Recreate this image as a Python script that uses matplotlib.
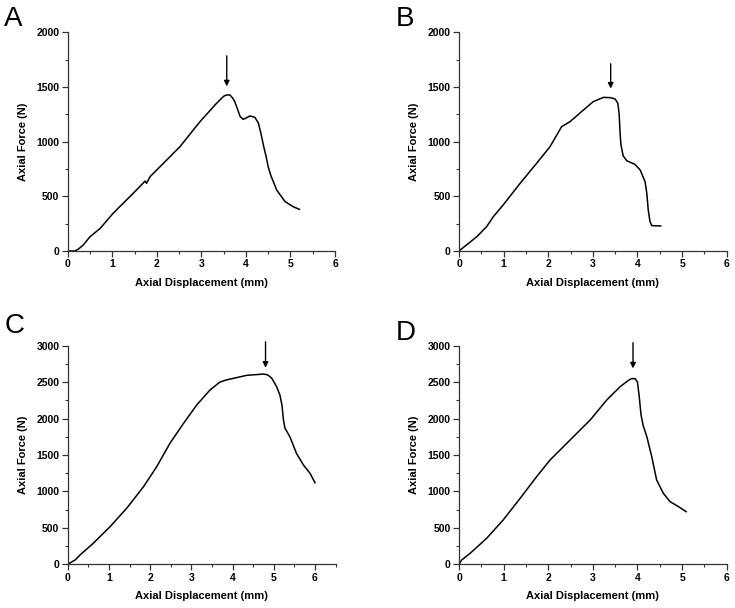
import matplotlib.pyplot as plt
from matplotlib.ticker import MultipleLocator

plt.rcParams['font.family'] = ['Liberation Sans', 'DejaVu Sans']

# panel A
a_x = [0, 0.16, 0.25, 0.35, 0.5, 0.73, 1.02, 1.47, 1.74, 1.77, 1.85, 2.0, 2.52, 2.97, 3.34, 3.5,
       3.57, 3.64, 3.7, 3.75, 3.81, 3.87, 3.94, 4.0, 4.09, 4.2, 4.28, 4.34, 4.4, 4.45, 4.5,
       4.56, 4.69, 4.88, 5.06, 5.2]
a_y = [0, 0, 20, 55, 130, 207, 345, 527, 640, 619, 680, 741, 954, 1183, 1350, 1415,
       1427, 1427, 1400, 1366, 1300, 1229, 1204, 1215, 1235, 1223, 1170, 1070, 954, 870, 770,
       690, 558, 451, 405, 381]
# panel B
b_x = [0, 0.4, 0.62, 0.77, 0.99, 1.37, 1.74, 2.04, 2.3, 2.49, 2.79, 3.01, 3.24, 3.39, 3.5,
       3.56, 3.59, 3.61, 3.63, 3.68, 3.76, 3.94, 4.06, 4.17, 4.21, 4.24, 4.28, 4.32, 4.52]
b_y = [0, 131, 223, 314, 421, 619, 802, 954, 1137, 1183, 1290, 1366, 1405, 1402, 1390,
       1350, 1250, 1080, 970, 870, 825, 793, 741, 634, 527, 380, 270, 232, 229]
# panel C
c_x = [0, 0.18, 0.3, 0.62, 1.03, 1.43, 1.84, 2.16, 2.48, 2.81, 3.13, 3.45, 3.69, 3.85, 3.94,
       4.34, 4.75, 4.85, 4.95, 5.07, 5.15, 5.2, 5.23, 5.27, 5.39, 5.55, 5.72, 5.88, 6.0]
c_y = [0, 59, 128, 288, 517, 768, 1065, 1340, 1660, 1934, 2186, 2391, 2500, 2530, 2542,
       2593, 2611, 2600, 2555, 2437, 2320, 2180, 2000, 1870, 1751, 1523, 1363, 1248, 1120]
# panel D
d_x = [0, 0.06, 0.25, 0.62, 0.99, 1.37, 1.74, 2.04, 2.49, 2.94, 3.31, 3.61, 3.8, 3.87, 3.95,
       4.0, 4.04, 4.08, 4.13, 4.21, 4.32, 4.43, 4.58, 4.73, 4.92, 5.09]
d_y = [0, 59, 151, 357, 608, 905, 1203, 1431, 1706, 1980, 2254, 2437, 2525, 2548, 2547,
       2500, 2300, 2050, 1900, 1751, 1477, 1157, 974, 860, 791, 722]

letters = ['A', 'B', 'C', 'D']
xs = [a_x, b_x, c_x, d_x]
ys = [a_y, b_y, c_y, d_y]
ymaxs = [2000, 2000, 3000, 3000]
xmaxs = [6, 6, 6.5, 6]
# arrow: x, tail y, head y
arrows = [(3.57, 1810, 1480), (3.4, 1737, 1460), (4.8, 3092, 2660), (3.9, 3080, 2650)]

boxes = [[0.0921, 0.5872, 0.3637, 0.3597],
         [0.6245, 0.5872, 0.3642, 0.3597],
         [0.0921, 0.0719, 0.3645, 0.3595],
         [0.6245, 0.0719, 0.3642, 0.3595]]
letter_pos = [(0.006, 0.99), (0.538, 0.99), (0.006, 0.485), (0.539, 0.474)]

fig = plt.figure(figsize=(7.35, 6.08), dpi=100)
for i in range(4):
    ax = fig.add_axes(boxes[i])
    ax.plot(xs[i], ys[i], color='black', lw=1.1)
    ax.set_xlim(0, xmaxs[i])
    ax.set_ylim(0, ymaxs[i])
    ax.spines['top'].set_visible(False)
    ax.spines['right'].set_visible(False)
    for s in ['left', 'bottom']:
        ax.spines[s].set_color('#333333')
        ax.spines[s].set_linewidth(0.9)
    ax.xaxis.set_major_locator(MultipleLocator(1))
    ax.xaxis.set_minor_locator(MultipleLocator(0.5))
    ax.yaxis.set_major_locator(MultipleLocator(500))
    ax.yaxis.set_minor_locator(MultipleLocator(250))
    ax.tick_params(which='major', direction='out', length=4, width=0.9, color='#333333',
                   labelsize=7.5, pad=2)
    ax.tick_params(which='minor', direction='out', length=2, width=0.8, color='#333333')
    for lab in ax.get_xticklabels() + ax.get_yticklabels():
        lab.set_fontweight('bold')
    ax.set_xlabel('Axial Displacement (mm)', fontsize=8, fontweight='bold', labelpad=6)
    ax.set_ylabel('Axial Force (N)', fontsize=8, fontweight='bold', labelpad=6)
    ax.annotate('', xy=(arrows[i][0], arrows[i][2]), xytext=(arrows[i][0], arrows[i][1]),
                arrowprops=dict(arrowstyle='-|>', color='black', lw=1, mutation_scale=8),
                annotation_clip=False)
    fig.text(letter_pos[i][0], letter_pos[i][1], letters[i], fontsize=20, va='top', ha='left')

fig.savefig('out.png', dpi=100)
